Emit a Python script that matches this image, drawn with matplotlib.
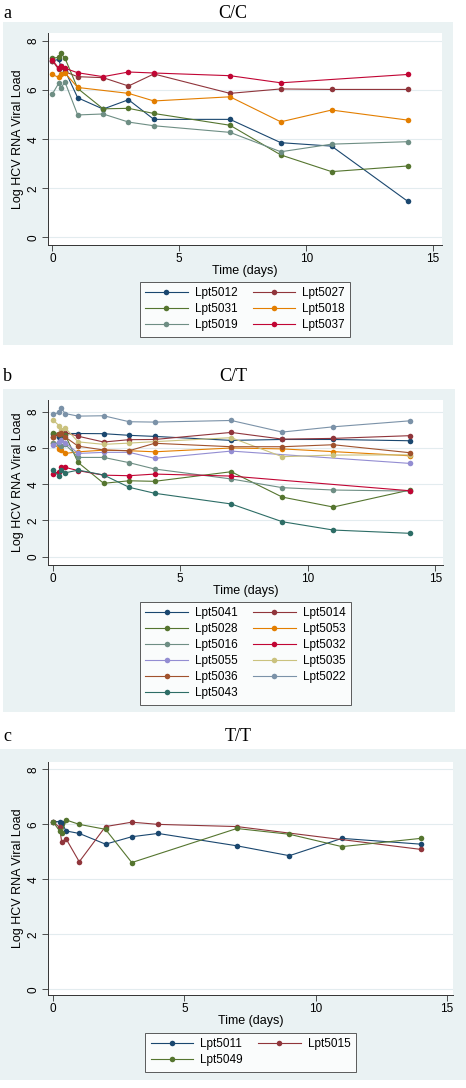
import numpy as np
import matplotlib
matplotlib.use("Agg")
import matplotlib.pyplot as plt
from matplotlib.patches import Rectangle

# ---------------- data ----------------
times = [0, 0.25, 0.33, 0.5, 1, 2, 3, 4, 7, 9, 11, 14]

# Panel a: C/C
a_labels = ["Lpt5012", "Lpt5027", "Lpt5031", "Lpt5018", "Lpt5019", "Lpt5037"]
lpt5012 = [7.2, 7.25, 7.0, 6.8, 5.69, 5.23, 5.61, 4.81, 4.81, 3.86, 3.72, 1.47]
lpt5027 = [7.2, 6.85, 6.95, 6.75, 6.55, 6.51, 6.17, 6.66, 5.87, 6.05, 6.03, 6.03]
lpt5031 = [7.3, 7.34, 7.5, 7.3, 6.07, 5.24, 5.26, 5.05, 4.57, 3.36, 2.68, 2.91]
lpt5018 = [6.64, 6.52, 6.66, 6.7, 6.11, None, 5.87, 5.56, 5.73, 4.71, 5.19, 4.78]
lpt5019 = [5.84, 6.28, 6.08, 6.33, 4.99, 5.03, 4.70, 4.55, 4.28, 3.49, 3.80, 3.90]
lpt5037 = [7.23, 6.9, 7.0, 6.89, 6.71, 6.55, 6.74, 6.70, 6.59, 6.30, None, 6.64]

# Panel b: C/T
b_labels = ["Lpt5041", "Lpt5014", "Lpt5028", "Lpt5053", "Lpt5016", "Lpt5032",
            "Lpt5055", "Lpt5035", "Lpt5036", "Lpt5022", "Lpt5043"]
lpt5041 = [6.8, 6.6, 6.7, 6.8, 6.8, 6.79, 6.70, 6.64, 6.42, 6.47, 6.47, 6.40]
lpt5014 = [6.6, 6.75, 6.8, 6.85, 6.65, 6.33, 6.46, 6.47, 6.86, 6.49, 6.53, 6.68]
lpt5028 = [6.84, 6.8, 6.75, 6.7, 5.2, 4.05, 4.19, 4.16, 4.69, 3.29, 2.74, 3.68]
lpt5053 = [6.3, 5.97, 5.88, 5.7, 5.79, 5.88, 5.85, 5.79, 6.0, 5.95, 5.8, 5.57]
lpt5016 = [6.3, 6.2, 6.1, 6.2, 5.48, 5.48, 5.19, 4.84, 4.29, 3.81, 3.68, 3.62]
lpt5032 = [4.56, 4.7, 4.93, 4.93, 4.75, 4.5, 4.47, 4.56, 4.45, None, None, 3.64]
lpt5055 = [6.16, 6.34, 6.43, 6.3, 5.7, 5.76, 5.76, 5.43, 5.83, None, None, 5.15]
lpt5035 = [7.57, 7.24, 6.99, 7.1, 6.34, 6.2, 6.27, 6.35, 6.57, 5.52, 5.61, 5.62]
lpt5036 = [6.62, 6.8, 6.85, 6.6, 6.1, 5.89, 5.85, 6.26, 6.07, 6.07, 6.18, 5.74]
lpt5022 = [7.85, 7.96, 8.2, 7.9, 7.76, 7.78, 7.45, 7.43, 7.52, 6.88, 7.17, 7.50]
lpt5043 = [4.78, 4.45, 4.78, 4.63, 4.78, 4.51, 3.83, 3.50, 2.91, 1.93, 1.47, 1.29]

# Panel c: T/T
c_labels = ["Lpt5011", "Lpt5015", "Lpt5049"]
lpt5011 = [6.1, 6.1, 6.06, 5.76, 5.67, 5.28, 5.55, 5.67, 5.22, 4.86, 5.49, 5.28]
lpt5015 = [6.1, 5.89, 5.37, 5.47, 4.64, 5.92, 6.08, 6.0, 5.92, None, None, 5.09]
lpt5049 = [6.1, 5.76, 5.67, 6.16, 6.0, 5.82, 4.61, None, 5.85, 5.64, 5.19, 5.49]

x_ticks = [0, 5, 10, 15]
y_ticks = [0, 2, 4, 6, 8]

# ---------------- style ----------------
stata = ["#1a476f", "#90353b", "#55752f", "#e37e00", "#6e8e84", "#c10534",
         "#938dd2", "#cac27e", "#a0522d", "#7b92a8", "#2d6d66"]
BG = "#eaf2f3"
W, H = 466, 1088
sans = ["Liberation Sans", "DejaVu Sans"]
serif = ["Liberation Serif", "DejaVu Serif"]
plt.rcParams["font.family"] = sans

fig = plt.figure(figsize=(W / 100, H / 100), dpi=100)
fig.patch.set_facecolor("white")


def rect(l, t, r, b):
    return [l / W, 1 - b / H, (r - l) / W, (b - t) / H]


panels = [
    dict(letter="a", title="C/C", labels=a_labels,
         series=[lpt5012, lpt5027, lpt5031, lpt5018, lpt5019, lpt5037],
         bg=(3, 22, 453, 345), ax=(48, 33, 442, 245),
         xlim=(-0.17, 15.35), ylim=(-0.31, 8.33), title_y=18, leg_top=282),
    dict(letter="b", title="C/T", labels=b_labels,
         series=[lpt5041, lpt5014, lpt5028, lpt5053, lpt5016, lpt5032,
                 lpt5055, lpt5035, lpt5036, lpt5022, lpt5043],
         bg=(3, 389, 455, 712), ax=(48, 400, 443, 565),
         xlim=(-0.18, 15.3), ylim=(-0.46, 8.65), title_y=381, leg_top=602),
    dict(letter="c", title="T/T", labels=c_labels,
         series=[lpt5011, lpt5015, lpt5049],
         bg=(0, 749, 466, 1080), ax=(48, 762, 453, 995),
         xlim=(-0.19, 15.23), ylim=(-0.21, 8.27), title_y=741, leg_top=1033),
]

for p in panels:
    l, t, r, b = p["bg"]
    fig.add_artist(Rectangle((l / W, 1 - b / H), (r - l) / W, (b - t) / H,
                             transform=fig.transFigure, facecolor=BG,
                             edgecolor="none", zorder=0))
    fig.text(3 / W, 1 - p["title_y"] / H, p["letter"], fontsize=13,
             family=serif, va="baseline", ha="left")
    al, at, ar, ab = p["ax"]
    fig.text(((al + ar) / 2 - 12) / W, 1 - p["title_y"] / H, p["title"],
             fontsize=13, family=serif, va="baseline", ha="center")

    ax = fig.add_axes(rect(*p["ax"]))
    ax.set_facecolor("white")
    ax.set_zorder(2)
    handles = []
    for i, (lab, vals) in enumerate(zip(p["labels"], p["series"])):
        tx = [tt for tt, v in zip(times, vals) if v is not None]
        vy = [v for v in vals if v is not None]
        h, = ax.plot(tx, vy, color=stata[i], lw=0.8, marker="o",
                     markersize=4.0, markeredgewidth=0, zorder=3 + i * 0.01,
                     label=lab)
        handles.append(h)
    ax.set_xlim(*p["xlim"])
    ax.set_ylim(*p["ylim"])
    ax.set_xticks(x_ticks)
    ax.set_yticks(y_ticks)
    ax.set_yticklabels([str(v) for v in y_ticks], rotation=90, va="center")
    ax.tick_params(axis="both", labelsize=8.5, length=4, width=0.6,
                   color="#333333", pad=2)
    ax.grid(axis="y", color="#e3ecef", lw=0.8, zorder=0)
    ax.set_axisbelow(True)
    for s in ["top", "right"]:
        ax.spines[s].set_visible(False)
    for s in ["left", "bottom"]:
        ax.spines[s].set_linewidth(0.7)
        ax.spines[s].set_color("#333333")
    ax.set_xlabel("Time (days)", fontsize=9, labelpad=0)
    ax.set_ylabel("Log HCV RNA Viral Load", fontsize=9, labelpad=3)

    # legend: row-major order like Stata
    n = len(handles)
    order = list(range(0, n, 2)) + list(range(1, n, 2))
    hs = [handles[k] for k in order]
    leg = fig.legend(hs, [h.get_label() for h in hs], ncol=2,
                     loc="upper center",
                     bbox_to_anchor=((al + ar) / 2 / W, 1 - p["leg_top"] / H),
                     bbox_transform=fig.transFigure,
                     prop={"family": sans, "size": 8.5}, frameon=True,
                     fancybox=False,
                     handlelength=3.6, handletextpad=0.6, columnspacing=1.3,
                     labelspacing=0.34, borderpad=0.45, borderaxespad=0)
    leg.get_frame().set_edgecolor("#333333")
    leg.get_frame().set_linewidth(0.7)
    leg.set_zorder(5)

fig.savefig("out.png", dpi=100)
